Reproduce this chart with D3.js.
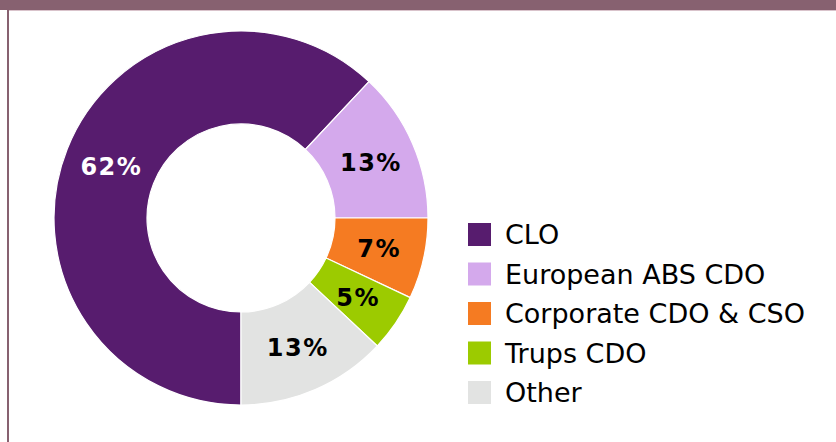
<!DOCTYPE html>
<html>
<head>
<meta charset="utf-8">
<script src="https://cdn.jsdelivr.net/npm/d3@7"></script>
<style>
    body { margin: 0; background: #fff; }
    svg { display: block; font-family: Verdana, "DejaVu Sans", sans-serif; }
</style>
</head>
<body>
<svg id="donut" width="836" height="442"></svg>
<script>
var categories = ["CLO", "European ABS CDO", "Corporate CDO & CSO", "Trups CDO", "Other"];
var shares = [62, 13, 7, 5, 13];
var colors = ["#571c6e", "#d4a9ec", "#f57b22", "#9ccb00", "#e2e3e2"];
var labelColors = ["#ffffff", "#000000", "#000000", "#000000", "#000000"];

(function donutChart() {
    var svg = d3.select("#donut");

    // frame: top band + left rule
    svg.append("rect").attr("x", 0).attr("y", 0).attr("width", 836).attr("height", 10).attr("fill", "#876170");
    svg.append("rect").attr("x", 8).attr("y", 10).attr("width", 828).attr("height", 1).attr("fill", "#d9c3cb");
    svg.append("rect").attr("x", 7).attr("y", 10).attr("width", 2).attr("height", 432).attr("fill", "#876170");

    var data = categories.map(function (c, i) {
        return { name: c, value: shares[i], color: colors[i], label: labelColors[i] };
    });

    var pie = d3.pie()
        .sort(null)
        .value(function (d) { return d.value; })
        .startAngle(Math.PI)
        .endAngle(Math.PI * 3);

    var arc = d3.arc().innerRadius(94).outerRadius(187);

    var g = svg.append("g").attr("transform", "translate(241,218)");

    var arcs = g.selectAll(".slice")
        .data(pie(data))
        .enter().append("g")
        .attr("class", "slice");

    arcs.append("path")
        .attr("d", arc)
        .attr("fill", function (d) { return d.data.color; })
        .attr("stroke", "#fff")
        .attr("stroke-width", 1.2);

    arcs.append("text")
        .attr("transform", function (d) {
            var c = arc.centroid(d);
            return "translate(" + (c[0] + 1) + "," + c[1] + ")";
        })
        .attr("text-anchor", "middle")
        .attr("dy", "0.36em")
        .style("font-weight", "bold")
        .style("font-size", "24px")
        .style("letter-spacing", "1.5px")
        .attr("fill", function (d) { return d.data.label; })
        .text(function (d) { return d.data.value + "%"; });

    var legend = svg.append("g").attr("transform", "translate(468,223)");
    var row = legend.selectAll(".row")
        .data(data)
        .enter().append("g")
        .attr("class", "row")
        .attr("transform", function (d, i) { return "translate(0," + (i * 39.5) + ")"; });

    row.append("rect")
        .attr("width", 23)
        .attr("height", 23)
        .attr("fill", function (d) { return d.color; });

    row.append("text")
        .attr("x", 37)
        .attr("y", 21)
        .style("font-size", "27px")
        .attr("fill", "#000")
        .text(function (d) { return d.name; });
}());
</script>
</body>
</html>
